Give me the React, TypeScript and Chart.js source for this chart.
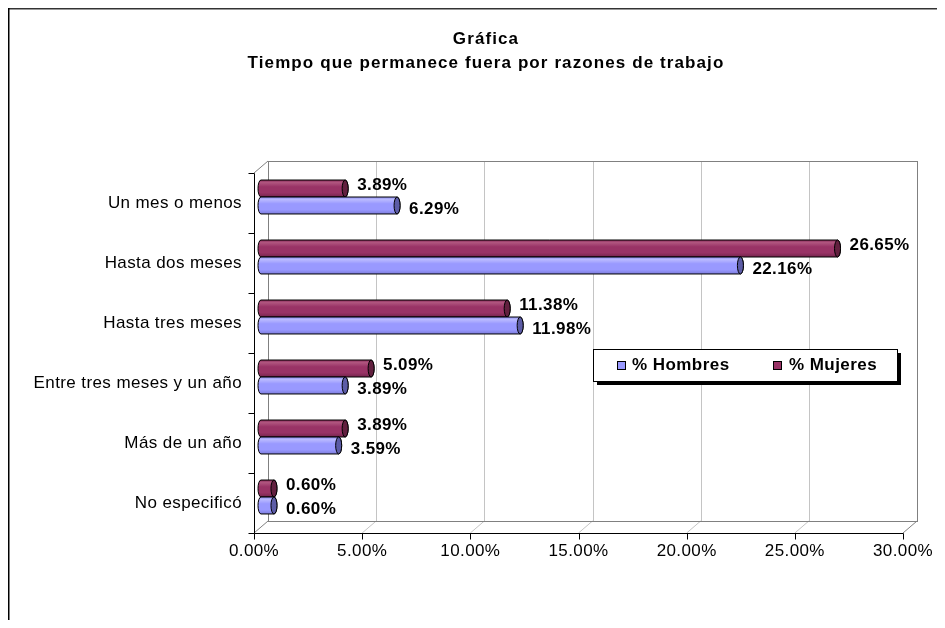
import React, { useEffect, useRef } from 'react';
import { Chart, registerables } from 'chart.js';

Chart.register(...registerables);

const categories = [
  'Un mes o menos',
  'Hasta dos meses',
  'Hasta tres meses',
  'Entre tres meses y un año',
  'Más de un año',
  'No especificó',
];
const hombres = [6.29, 22.16, 11.98, 3.89, 3.59, 0.6];
const mujeres = [3.89, 26.65, 11.38, 5.09, 3.89, 0.6];
const seriesNames = ['% Hombres', '% Mujeres'];
const titleLines = ['Gráfica', 'Tiempo que permanece fuera por razones de trabajo'];
const xMin = 0;
const xMax = 30;
const xStep = 5;

const FONT = "'Liberation Sans', Arial, Helvetica, sans-serif";
const DX = 7;
const DY = 6;
const W = 929;
const H = 612;

type Pal = { base: string; light: string; dark: string; top: string; cap: string };
const PAL_H: Pal = { base: '#9999ff', light: '#babaff', dark: '#7c7cdc', top: '#8e8ef0', cap: '#5c5ca6' };
const PAL_M: Pal = { base: '#993366', light: '#b0557f', dark: '#74244c', top: '#8a2d5b', cap: '#62203f' };

function line(ctx: CanvasRenderingContext2D, x1: number, y1: number, x2: number, y2: number) {
  ctx.beginPath();
  ctx.moveTo(x1, y1);
  ctx.lineTo(x2, y2);
  ctx.stroke();
}
const r5 = (v: number) => Math.round(v) + 0.5;

function drawCylinder(ctx: CanvasRenderingContext2D, x0: number, x1: number, yc: number, h: number, p: Pal) {
  const rx = 3;
  const ry = h / 2;
  const top = yc - ry;
  const bot = yc + ry;
  const g = ctx.createLinearGradient(0, top, 0, bot);
  g.addColorStop(0, p.top);
  g.addColorStop(0.15, p.light);
  g.addColorStop(0.4, p.base);
  g.addColorStop(0.75, p.base);
  g.addColorStop(1, p.dark);
  ctx.beginPath();
  ctx.moveTo(x1, top);
  ctx.lineTo(x0, top);
  ctx.ellipse(x0, yc, rx, ry, 0, -Math.PI / 2, Math.PI / 2, true);
  ctx.lineTo(x1, bot);
  ctx.ellipse(x1, yc, rx, ry, 0, Math.PI / 2, -Math.PI / 2, true);
  ctx.closePath();
  ctx.fillStyle = g;
  ctx.fill();
  ctx.lineWidth = 1;
  ctx.strokeStyle = '#000';
  ctx.stroke();
  ctx.beginPath();
  ctx.ellipse(x1, yc, rx, ry, 0, 0, Math.PI * 2);
  ctx.fillStyle = p.cap;
  ctx.fill();
  ctx.stroke();
}

const framePlugin = {
  id: 'frame3d',
  beforeDraw(chart: any) {
    (chart.ctx as any).letterSpacing = '0.4px';
  },
  beforeDatasetsDraw(chart: any) {
    const { ctx, chartArea: a, scales } = chart;
    const x = scales.x;
    const y = scales.y;
    const L = a.left, R = a.right, T = a.top, B = a.bottom;
    ctx.save();
    ctx.lineWidth = 1;
    // back wall gridlines and floor diagonals
    ctx.strokeStyle = '#c4c4c4';
    x.ticks.forEach((t: any) => {
      if (t.value === xMin || t.value === xMax) return;
      const px = x.getPixelForValue(t.value);
      line(ctx, r5(px + DX), T - DY, r5(px + DX), B - DY);
      line(ctx, px + DX, B - DY, px - DX, B + DY);
    });
    // wall edges
    ctx.strokeStyle = '#808080';
    ctx.strokeRect(r5(L + DX), r5(T - DY), Math.round(R - L), Math.round(B - T));
    line(ctx, L - DX, T + DY, L + DX, T - DY);
    line(ctx, L - DX, B + DY, L + DX, B - DY);
    line(ctx, R - DX, B + DY, R + DX, B - DY);
    // front axes
    ctx.strokeStyle = '#000';
    ctx.beginPath();
    ctx.moveTo(r5(L - DX), r5(T + DY));
    ctx.lineTo(r5(L - DX), r5(B + DY));
    ctx.lineTo(r5(R - DX), r5(B + DY));
    ctx.stroke();
    for (let i = 0; i <= categories.length; i++) {
      const py = r5(y.getPixelForValue(i - 0.5) + DY);
      line(ctx, r5(L - DX) - 6, py, r5(L - DX), py);
    }
    x.ticks.forEach((t: any) => {
      const px = r5(x.getPixelForValue(t.value) - DX);
      line(ctx, px, r5(B + DY), px, r5(B + DY) + 6);
    });
    ctx.restore();
  },
  afterDatasetsDraw(chart: any) {
    const { ctx } = chart;
    ctx.save();
    chart.data.datasets.forEach((ds: any, di: number) => {
      const meta = chart.getDatasetMeta(di);
      const pal = di === 0 ? PAL_M : PAL_H;
      meta.data.forEach((el: any, i: number) => {
        const { x: x1, y: yc, base, height } = el.getProps(['x', 'y', 'base', 'height'], true);
        drawCylinder(ctx, base, x1, yc, height, pal);
        ctx.font = `bold 17px ${FONT}`;
        ctx.fillStyle = '#000';
        ctx.textAlign = 'left';
        ctx.textBaseline = 'middle';
        const v = ds.data[i] as number;
        ctx.fillText(v.toFixed(2) + '%', x1 + 12, yc + (di === 0 ? -3.5 : 4));
      });
    });
    ctx.restore();
  },
  afterDraw(chart: any) {
    const { ctx } = chart;
    ctx.save();
    // outer frame (top and left)
    ctx.fillStyle = '#333';
    ctx.fillRect(0, 0, W, 1.5);
    ctx.fillStyle = '#000';
    ctx.fillRect(0, 0, 1.5, H);
    // title
    ctx.fillStyle = '#000';
    ctx.font = `bold 17px ${FONT}`;
    ctx.textAlign = 'center';
    ctx.textBaseline = 'middle';
    (ctx as any).letterSpacing = '1.1px';
    ctx.fillText(titleLines[0], 478, 31);
    ctx.fillText(titleLines[1], 478, 55);
    // legend
    (ctx as any).letterSpacing = '0.45px';
    const lx = 585, ly = 341, lw = 304, lh = 32;
    ctx.fillStyle = '#000';
    ctx.fillRect(lx + 4, ly + 4, lw, lh);
    ctx.fillStyle = '#fff';
    ctx.fillRect(lx, ly, lw, lh);
    ctx.strokeStyle = '#000';
    ctx.lineWidth = 1;
    ctx.strokeRect(lx + 0.5, ly + 0.5, lw, lh);
    const items = [
      { name: seriesNames[0], color: PAL_H.base, mx: 609, tx: 624 },
      { name: seriesNames[1], color: PAL_M.base, mx: 765, tx: 781 },
    ];
    items.forEach((it) => {
      ctx.fillStyle = it.color;
      ctx.fillRect(it.mx, 353, 8, 8);
      ctx.strokeRect(it.mx + 0.5, 353.5, 8, 8);
      ctx.fillStyle = '#000';
      ctx.font = `bold 17px ${FONT}`;
      ctx.textAlign = 'left';
      ctx.textBaseline = 'middle';
      ctx.fillText(it.name, it.tx, 357.5);
    });
    ctx.restore();
  },
};

export default function App() {
  const ref = useRef<HTMLCanvasElement | null>(null);
  useEffect(() => {
    if (!ref.current) return;
    const chart = new Chart(ref.current, {
      type: 'bar',
      data: {
        labels: categories,
        datasets: [
          { label: seriesNames[1], data: mujeres, backgroundColor: 'rgba(0,0,0,0)', borderWidth: 0 },
          { label: seriesNames[0], data: hombres, backgroundColor: 'rgba(0,0,0,0)', borderWidth: 0 },
        ],
      },
      options: {
        indexAxis: 'y',
        responsive: false,
        animation: false,
        events: [],
        datasets: { bar: { categoryPercentage: 0.566, barPercentage: 1 } },
        layout: { padding: { left: 0, top: 159, right: 27, bottom: 0 } },
        plugins: { legend: { display: false }, title: { display: false }, tooltip: { enabled: false } },
        scales: {
          x: {
            type: 'linear',
            min: xMin,
            max: xMax,
            grid: { display: false, drawTicks: false },
            border: { display: false },
            ticks: {
              stepSize: xStep,
              padding: 14,
              labelOffset: -DX,
              maxRotation: 0,
              autoSkip: false,
              color: '#000',
              font: { family: FONT, size: 17 },
              callback: (v: any) => Number(v).toFixed(2) + '%',
            },
            afterFit: (s: any) => {
              s.height = 93;
              s.paddingLeft = 0;
              s.paddingRight = 0;
              s.paddingTop = 0;
              s.paddingBottom = 0;
            },
          },
          y: {
            type: 'category',
            grid: { display: false, drawTicks: false },
            border: { display: false },
            ticks: {
              padding: 19,
              labelOffset: DY,
              autoSkip: false,
              color: '#000',
              font: { family: FONT, size: 17 },
            },
            afterFit: (s: any) => {
              s.width = 253;
              s.paddingLeft = 0;
              s.paddingRight = 0;
              s.paddingTop = 0;
              s.paddingBottom = 0;
            },
          },
        },
      } as any,
      plugins: [framePlugin],
    });
    return () => chart.destroy();
  }, []);
  return (
    <div style={{ width: W, height: H }}>
      <canvas ref={ref} width={W} height={H} style={{ display: 'block', width: W, height: H }} />
    </div>
  );
}
